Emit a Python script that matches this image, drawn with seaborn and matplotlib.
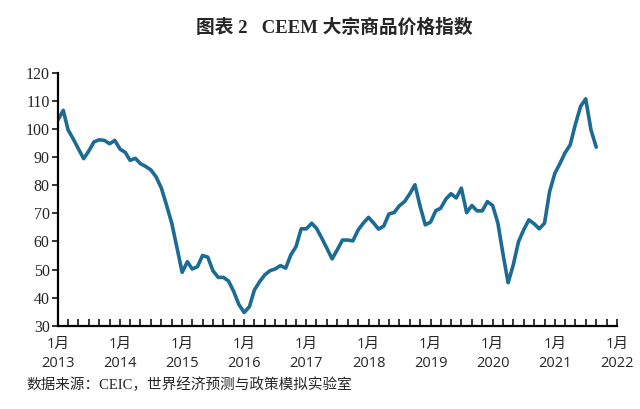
import matplotlib
matplotlib.use('Agg')
import matplotlib.pyplot as plt
import matplotlib.dates as mdates
import seaborn as sns
import pandas as pd

# CEEM commodity price index, monthly from Jan 2013
index_values = [
    103.3, 106.7, 99.8, 96.5, 93.0, 89.5, 92.2, 95.5, 96.2, 96.0, 94.8, 96.0,
    92.9, 91.7, 88.9, 89.6, 87.7, 86.7, 85.5, 83.0, 79.0, 73.0, 66.5, 58.0,
    49.0, 52.8, 50.2, 51.0, 55.0, 54.4, 49.6, 47.2, 47.2, 45.9, 42.1, 37.5,
    34.7, 36.8, 42.7, 45.7, 48.1, 49.6, 50.2, 51.4, 50.5, 55.2, 58.2, 64.5,
    64.5, 66.5, 64.7, 61.2, 57.6, 53.8, 57.0, 60.5, 60.5, 60.2, 64.1, 66.5,
    68.6, 66.5, 64.4, 65.5, 69.8, 70.3, 72.7, 74.2, 77.0, 80.2, 72.4, 65.9,
    66.9, 71.0, 71.8, 75.1, 77.0, 75.5, 79.0, 70.3, 72.8, 70.9, 70.9, 74.2,
    72.8, 66.5, 55.8, 45.3, 51.6, 59.9, 64.1, 67.7, 66.3, 64.5, 66.5, 77.8,
    84.3, 87.9, 91.5, 94.4, 101.6, 108.1, 110.8, 99.8, 93.6,
]
start_month = '2013-01-01'
tick_years = list(range(2013, 2023))
tick_labels = [f'1月\n{y}' for y in tick_years]
title_text = '图表 2   CEEM 大宗商品价格指数'
source_text = '数据来源：CEIC，世界经济预测与政策模拟实验室'

df = pd.DataFrame({
    'month': pd.date_range(start_month, periods=len(index_values), freq='MS'),
    'value': index_values,
})

sns.set_style('ticks')
plt.rcParams['font.family'] = ['Liberation Serif', 'Noto Sans CJK SC', 'DejaVu Sans']

fig = plt.figure(figsize=(6.4, 4.09), dpi=100)
ax = fig.add_axes([0.0906, 0.2037, 0.8734, 0.6178])

sns.lineplot(data=df, x='month', y='value', ax=ax, color='#1b6b95', linewidth=2.6)

ax.set_xlim(pd.Timestamp('2013-01-01'), pd.Timestamp('2022-01-01'))
ax.set_ylim(30, 120)
ax.set_yticks(range(30, 121, 10))
ax.set_xlabel('')
ax.set_ylabel('')

ax.set_xticks([pd.Timestamp(f'{y}-01-01') for y in tick_years])
ax.set_xticklabels(tick_labels, family=['Open Sans', 'Noto Sans CJK SC'], fontsize=10.5,
                   linespacing=1.35)
ax.xaxis.set_minor_locator(mdates.MonthLocator(bymonth=[3, 5, 7, 9, 11]))
ax.tick_params(axis='x', which='both', direction='in', length=5, width=1.3, pad=8)
ax.tick_params(axis='y', direction='out', length=4, width=1.3, labelsize=11.5, pad=2)

sns.despine(ax=ax)
for side in ['left', 'bottom']:
    ax.spines[side].set_linewidth(1.6)
    ax.spines[side].set_color('black')

fig.text(0.522, 0.933, title_text, ha='center', va='center', fontsize=13.5,
         fontweight='bold', family=['Liberation Serif', 'Noto Sans CJK SC'])
fig.text(0.042, 0.06, source_text, ha='left', va='center', fontsize=10.5,
         family=['Liberation Serif', 'Noto Sans CJK SC'])

fig.savefig('out.png', dpi=100)
